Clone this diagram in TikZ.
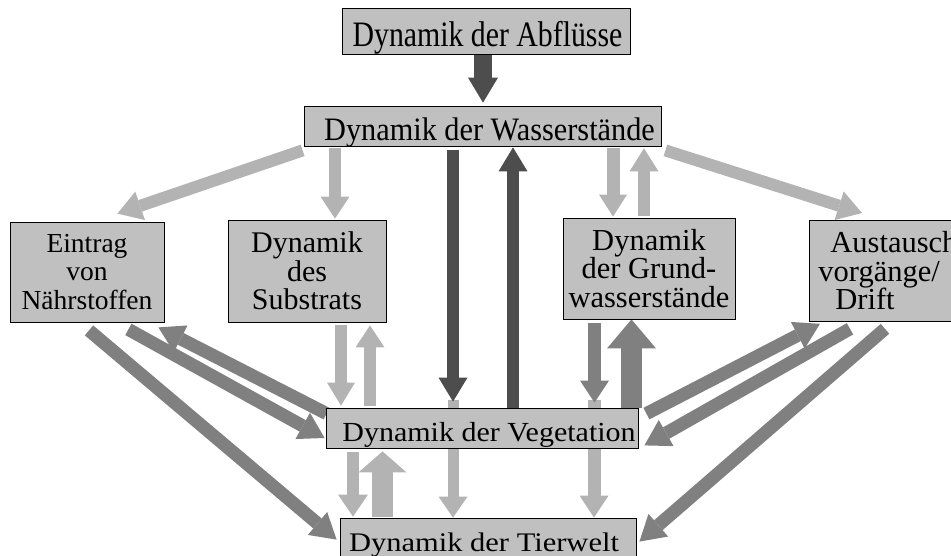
\documentclass[tikz,border=0pt]{standalone}
\usepackage{fontspec}
\setmainfont{Liberation Serif}
\usetikzlibrary{arrows.meta,calc}
\definecolor{dk}{HTML}{4D4D4D}
\definecolor{md}{HTML}{808080}
\definecolor{lt}{HTML}{B3B3B3}
\definecolor{bx}{HTML}{C0C0C0}
\pgfdeclarelayer{bg}
\pgfsetlayers{bg,main}
\tikzset{
  box/.style={draw=black,line width=0.8pt,fill=bx,inner sep=0pt,align=center,
    font=\fontsize{30.5}{28.5}\selectfont},
  blk/.style n args={4}{draw=#4,line width=#1pt,
    -{Triangle[length=#3pt,width=#2pt,line width=0pt]}},
}
\begin{document}
\begin{tikzpicture}[x=1pt,y=-1pt]
\useasboundingbox (0,0) rectangle (951,555);
\clip (0,0) rectangle (951,555);
\node[box,font=\fontsize{29.8}{28.5}\selectfont,minimum width=288pt,minimum height=46pt,text height=38.7pt,text depth=7.3pt] (abfl) at (486,31) {\hspace*{3pt}\scalebox{1}[1.2]{Dynamik der Abflüsse}};
\node[box,font=\fontsize{30.3}{28.5}\selectfont,minimum width=357pt,minimum height=40pt,text height=34pt,text depth=6pt] (wass) at (482.5,126) {\hspace*{14pt}\scalebox{1}[1.08]{Dynamik der Wasserstände}};
\node[box,font=\fontsize{27.5}{28.5}\selectfont,minimum width=154pt,minimum height=100pt] (eint) at (87,272) {Eintrag\\von\\Nährstoffen};
\node[box,font=\fontsize{30}{28.5}\selectfont,minimum width=158pt,minimum height=102pt] (subs) at (307,271) {Dynamik\\des\\Substrats};
\node[box,minimum width=172pt,minimum height=101pt] (grund) at (649,268.5) {Dynamik\\der Grund-\\wasserstände};
\node[box,minimum width=170pt,minimum height=101pt,anchor=north west,inner xsep=4pt,text width=162pt,align=left] (aust) at (809,220) {\hspace*{17pt}Austausch\\\hspace*{5pt}vorgänge/\\\hspace*{22pt}Drift};
\node[box,font=\fontsize{30}{28.5}\selectfont,minimum width=312pt,minimum height=40pt,text height=33pt,text depth=7pt] (veg) at (482,428) {\hspace*{14pt}\scalebox{1}[0.92]{Dynamik der Vegetation}};
\node[box,minimum width=296pt,minimum height=42pt,text height=33pt,text depth=9pt] (tier) at (488,539) {\scalebox{1}[0.88]{Dynamik der Tierwelt}\hspace*{8pt}};
\begin{pgfonlayer}{bg}
% behind the vegetation box
\draw[blk={11}{29}{21}{lt}] ($(453,0 |- veg.north)+(0,-8)$) -- (453,0 |- tier.north);
\draw[blk={13}{29}{22}{lt}] ($(594,0 |- veg.north)+(0,-8)$) -- (594,0 |- tier.north);
% from the top
\draw[blk={18}{30}{25}{dk}] (483,0 |- abfl.south) -- ($(483,0 |- wass.north)+(0,-3)$);
\draw[blk={12}{30}{24}{lt}] ($(wass.south west)+(-1,4)$) -- ($(eint.north east)+(-47,-8)$);
\draw[blk={12}{29}{22}{lt}] ($(335,0 |- wass.south)+(0,2)$) -- ($(335,0 |- subs.north)+(0,-1)$);
\draw[blk={12}{29}{24}{dk}] ($(453,0 |- wass.south)+(0,4)$) -- ($(453,0 |- veg.north)+(0,-6)$);
\draw[blk={12}{29}{24}{dk}] (513,0 |- veg.north) -- ($(513,0 |- wass.south)+(0,1)$);
\draw[blk={13}{28}{22}{lt}] ($(613,0 |- wass.south)+(0,2)$) -- ($(613,0 |- grund.north)+(0,-1)$);
\draw[blk={12}{29}{23}{lt}] ($(644,0 |- grund.north)+(0,-2)$) -- ($(644,0 |- wass.south)+(0,2)$);
\draw[blk={12}{30}{24}{lt}] ($(wass.south east)+(4,4)$) -- ($(aust.north west)+(53,-7)$);
% left side
\draw[blk={13}{30}{25}{md}] ($(eint.south)+(2,8)$) -- ($(tier.north west)+(-3,22)$);
\draw[blk={13}{30}{25}{md}] ($(eint.south east)+(-36,7)$) -- ($(veg.west)+(-1,10)$);
\draw[blk={13}{30}{25}{md}] ($(veg.north west)+(1,6)$) -- ($(eint.south east)+(-6,5)$);
\draw[blk={12}{28}{23}{lt}] ($(341,0 |- subs.south)+(0,3)$) -- ($(341,0 |- veg.north)+(0,-2)$);
\draw[blk={12}{29}{22}{lt}] ($(370,0 |- veg.north)+(0,-2)$) -- ($(370,0 |- subs.south)+(0,3)$);
\draw[blk={12}{30}{22}{lt}] ($(353,0 |- veg.south)+(0,4)$) -- ($(353,0 |- tier.north)+(0,-1)$);
\draw[blk={21}{48}{21}{lt}] ($(382.5,0 |- tier.north)+(0,-1)$) -- ($(382.5,0 |- veg.south)+(0,3)$);
% right side
\draw[blk={13}{29}{22}{md}] ($(594.5,0 |- grund.south)+(0,4)$) -- ($(594.5,0 |- veg.north)+(0,-5)$);
\draw[blk={21}{49}{29}{md}] (631.5,0 |- veg.north) -- (631.5,0 |- grund.south);
\draw[blk={13}{30}{25}{md}] ($(veg.north east)+(8,6)$) -- ($(aust.south west)+(11,2)$);
\draw[blk={13}{30}{25}{md}] ($(aust.south west)+(41,7)$) -- ($(veg.south east)+(6,-3)$);
\draw[blk={13}{30}{25}{md}] ($(aust.south west)+(76,7)$) -- ($(tier.north east)+(3,24)$);
\end{pgfonlayer}
\end{tikzpicture}
\end{document}
